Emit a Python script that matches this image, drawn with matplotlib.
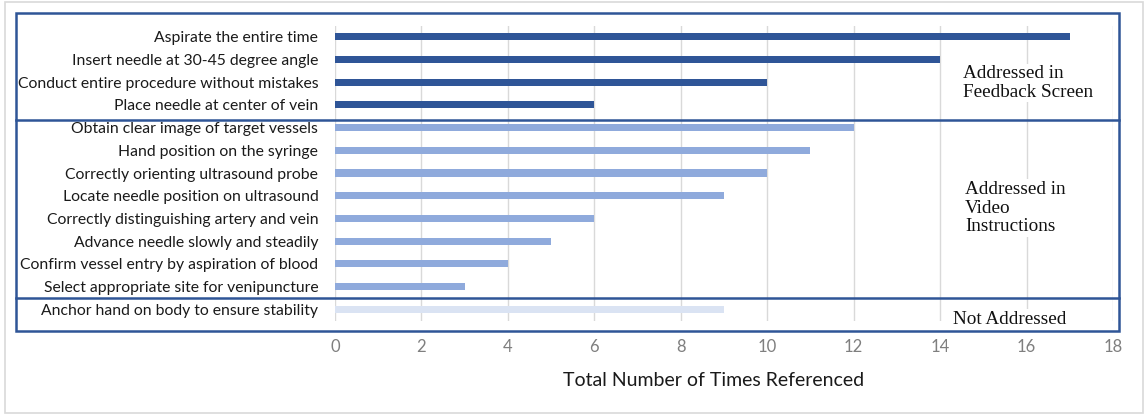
import numpy as np
import matplotlib
matplotlib.use("Agg")
from matplotlib import pyplot as plt
from matplotlib.patches import Rectangle
from matplotlib.lines import Line2D

# data, top to bottom as in the chart
labels = [
    "Aspirate the entire time",
    "Insert needle at 30-45 degree angle",
    "Conduct entire procedure without mistakes",
    "Place needle at center of vein",
    "Obtain clear image of target vessels",
    "Hand position on the syringe",
    "Correctly orienting ultrasound probe",
    "Locate needle position on ultrasound",
    "Correctly distinguishing artery and vein",
    "Advance needle slowly and steadily",
    "Confirm vessel entry by aspiration of blood",
    "Select appropriate site for venipuncture",
    "Anchor hand on body to ensure stability",
]
counts = [17, 14, 10, 6, 12, 11, 10, 9, 6, 5, 4, 3, 9]
groups = [0, 0, 0, 0, 1, 1, 1, 1, 1, 1, 1, 1, 2]
group_colors = ["#2F5597", "#8FAADC", "#DAE3F3"]
xticks = [0, 2, 4, 6, 8, 10, 12, 14, 16, 18]

W, H = 1148, 415
fig = plt.figure(figsize=(W / 100, H / 100), dpi=100)

ax = fig.add_axes([335 / W, 1 - 320.5 / H, (1113 - 335) / W, (320.5 - 25.5) / H])
y = np.arange(len(labels))
ax.barh(y, counts, height=0.31, color=[group_colors[g] for g in groups], zorder=2)
ax.set_ylim(len(labels) - 0.5, -0.5)
ax.set_xlim(0, 18)
ax.set_xticks(xticks)
ax.set_xticklabels([str(t) for t in xticks], fontsize=12, color="#7f7f7f", family="Lato")
ax.set_yticks(y)
ax.set_yticklabels(labels, fontsize=11.3, color="#1a1a1a", family="Lato")
ax.tick_params(axis="x", length=0, pad=13)
ax.tick_params(axis="y", length=0, pad=12)
ax.grid(axis="x", color="#d9d9d9", lw=1, zorder=0)
for s in ax.spines.values():
    s.set_visible(False)
ax.set_xlabel("Total Number of Times Referenced", fontsize=14, family="Lato",
              color="#1a1a1a")
ax.xaxis.set_label_coords((714 - 335) / (1113 - 335), -(372 - 320.5) / (320.5 - 25.5))

# outer grey frame
fig.add_artist(Rectangle((5 / W, 1 - 413 / H), 1138 / W, 411 / H, transform=fig.transFigure,
                         fill=False, ec="#d9d9d9", lw=1.2))
# blue group boxes
blue = "#2F5597"
fig.add_artist(Rectangle((16 / W, 1 - 331 / H), (1119 - 16) / W, (331 - 13) / H,
                         transform=fig.transFigure, fill=False, ec=blue, lw=1.8, zorder=5))
for py in [120, 298]:
    fig.add_artist(Line2D([16 / W, 1119 / W], [1 - py / H, 1 - py / H],
                          transform=fig.transFigure, color=blue, lw=1.8, zorder=5))

note_kw = dict(family="Liberation Serif", fontsize=13.8, color="#111111",
               va="center", ha="left", linespacing=1.15,
               bbox=dict(fc="white", ec="none", pad=1))
fig.text(963 / W, 1 - 83 / H, "Addressed in\nFeedback Screen", **note_kw)
fig.text(965 / W, 1 - 208 / H, "Addressed in\nVideo\nInstructions", **note_kw)
fig.text(953 / W, 1 - 319 / H, "Not Addressed", **note_kw)

fig.savefig("out.png", dpi=100)
